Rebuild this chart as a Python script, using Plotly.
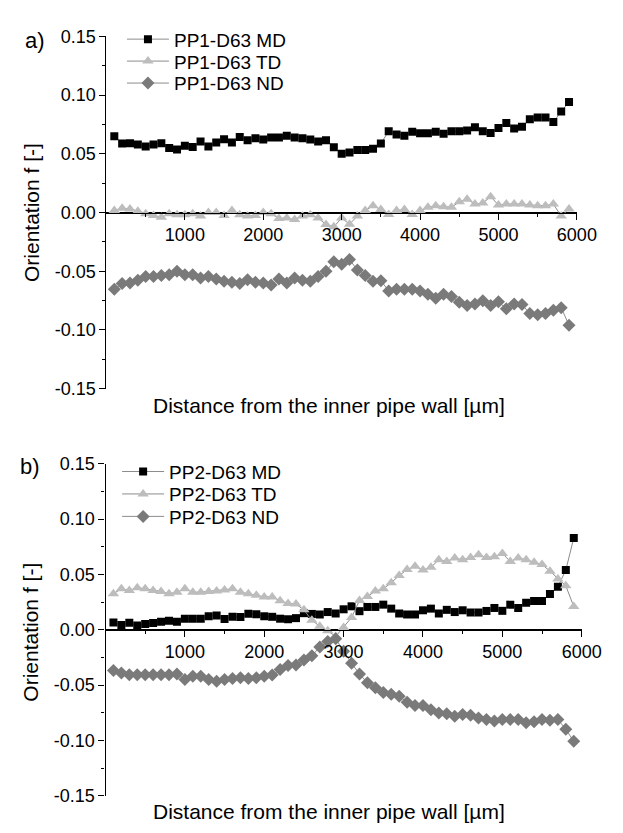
import plotly.graph_objects as go

# ---------------- data ----------------
distance = [100, 200, 300, 400, 500, 600, 700, 800, 900, 1000,
            1100, 1200, 1300, 1400, 1500, 1600, 1700, 1800, 1900, 2000,
            2100, 2200, 2300, 2400, 2500, 2600, 2700, 2800, 2900, 3000,
            3100, 3200, 3300, 3400, 3500, 3600, 3700, 3800, 3900, 4000,
            4100, 4200, 4300, 4400, 4500, 4600, 4700, 4800, 4900, 5000,
            5100, 5200, 5300, 5400, 5500, 5600, 5700, 5800, 5900]

pp1_md = [0.065, 0.0588, 0.059, 0.058, 0.0563, 0.058, 0.059, 0.055, 0.0536, 0.0569,
          0.0558, 0.0605, 0.0563, 0.0596, 0.0624, 0.0596, 0.0643, 0.0616, 0.0632, 0.0621,
          0.0638, 0.0638, 0.0654, 0.0638, 0.0632, 0.0621, 0.0605, 0.0616, 0.0555, 0.050,
          0.051, 0.0533, 0.0533, 0.0544, 0.0588, 0.0693, 0.0665, 0.0654, 0.0687, 0.0674,
          0.0674, 0.0687, 0.0671, 0.0693, 0.0693, 0.0698, 0.0726, 0.0693, 0.0676, 0.072,
          0.0762, 0.0715, 0.0731, 0.0795, 0.081, 0.081, 0.077, 0.086, 0.094]

pp1_td = [0.0017, 0.0036, 0.003, 0.001, -0.001, -0.0025, -0.004, -0.001, -0.002, -0.002,
          -0.001, -0.003, 0.0, 0.0, -0.0025, 0.0017, -0.002, -0.003, -0.0025, 0.0,
          -0.001, -0.005, -0.0047, -0.006, -0.003, -0.002, -0.0047, -0.0102, -0.0121, -0.0047,
          -0.0099, -0.003, 0.0017, 0.0058, 0.0025, -0.0017, 0.0017, 0.0025, -0.0017, 0.0017,
          0.0044, 0.0058, 0.005, 0.0044, 0.0091, 0.0113, 0.0072, 0.008, 0.0135, 0.0063,
          0.0072, 0.0072, 0.0072, 0.0063, 0.0058, 0.0058, 0.0072, -0.003, 0.003]

pp1_nd = [-0.0654, -0.0605, -0.060, -0.0577, -0.0544, -0.0544, -0.0536, -0.053, -0.050, -0.053,
          -0.053, -0.0558, -0.0544, -0.0566, -0.0585, -0.0594, -0.0605, -0.0572, -0.0594, -0.060,
          -0.0618, -0.0566, -0.060, -0.0558, -0.0577, -0.0585, -0.0544, -0.050, -0.042, -0.044,
          -0.040, -0.049, -0.0536, -0.0585, -0.058, -0.0668, -0.0654, -0.0654, -0.0654, -0.0668,
          -0.0696, -0.0731, -0.0696, -0.0715, -0.0764, -0.0792, -0.0778, -0.0751, -0.0792, -0.0759,
          -0.082, -0.0778, -0.0784, -0.086, -0.087, -0.086, -0.0833, -0.081, -0.096]

pp2_md = [0.0065, 0.0042, 0.0063, 0.0038, 0.0052, 0.0062, 0.0072, 0.0082, 0.0072, 0.0100,
          0.0100, 0.0100, 0.0123, 0.0130, 0.0098, 0.0117, 0.0115, 0.0145, 0.0140, 0.0122,
          0.0117, 0.0100, 0.0095, 0.0105, 0.0150, 0.0143, 0.0138, 0.0160, 0.0147, 0.0185,
          0.0212, 0.0168, 0.0206, 0.0206, 0.0227, 0.0191, 0.0147, 0.0138, 0.0138, 0.0176,
          0.0191, 0.0147, 0.0180, 0.0160, 0.0176, 0.0156, 0.0156, 0.0170, 0.0197, 0.0171,
          0.0227, 0.0197, 0.0244, 0.0260, 0.0260, 0.0324, 0.0388, 0.054, 0.083]

pp2_td = [0.0326, 0.037, 0.0356, 0.038, 0.037, 0.0356, 0.0347, 0.0326, 0.034, 0.037,
          0.034, 0.034, 0.0347, 0.035, 0.036, 0.037, 0.034, 0.0326, 0.0312, 0.0297,
          0.0297, 0.0262, 0.0238, 0.0232, 0.018, 0.0085, 0.0032, -0.001, -0.006, 0.002,
          0.011, 0.0265, 0.030, 0.035, 0.037, 0.0426, 0.049, 0.0544, 0.0574, 0.054,
          0.0565, 0.0633, 0.0618, 0.0648, 0.0633, 0.0653, 0.0677, 0.0653, 0.066, 0.069,
          0.0618, 0.0648, 0.0633, 0.061, 0.059, 0.053, 0.046, 0.0397, 0.021]

pp2_nd = [-0.0368, -0.039, -0.0406, -0.0406, -0.0406, -0.0406, -0.0406, -0.0406, -0.040, -0.045,
          -0.042, -0.042, -0.045, -0.0465, -0.045, -0.044, -0.0435, -0.044, -0.0435, -0.042,
          -0.041, -0.036, -0.0324, -0.0318, -0.0274, -0.0235, -0.0156, -0.0106, -0.0082, -0.0194,
          -0.0303, -0.040, -0.048, -0.0524, -0.0568, -0.0582, -0.060, -0.0656, -0.0685, -0.0685,
          -0.0724, -0.0753, -0.0759, -0.0782, -0.0765, -0.0774, -0.0797, -0.0812, -0.0824, -0.0812,
          -0.0812, -0.0812, -0.0841, -0.0832, -0.0812, -0.0818, -0.0812, -0.090, -0.1009]

y_ticks = [-0.15, -0.10, -0.05, 0.00, 0.05, 0.10, 0.15]
y_ticktext = ["-0.15", "-0.10", "-0.05", "0.00", "0.05", "0.10", "0.15"]
x_ticks = [1000, 2000, 3000, 4000, 5000, 6000]
x_ticktext = ["1000", "2000", "3000", "4000", "5000", "6000"]

names_a = ["PP1-D63 MD", "PP1-D63 TD", "PP1-D63 ND"]
names_b = ["PP2-D63 MD", "PP2-D63 TD", "PP2-D63 ND"]
x_title = "Distance from the inner pipe wall [µm]"
y_title = "Orientation f [-]"

# ---------------- styling ----------------
W, H = 623, 833
FONT = "Liberation Sans, Arial, Helvetica, sans-serif"
LINE_COL = "#8c8c8c"
styles = [
    dict(symbol="square", color="#000000", size=8),
    dict(symbol="triangle-up", color="#bdbdbd", size=10),
    dict(symbol="diamond", color="#7a7a7a", size=10),
]
# legend row centres (pixels from top) and left edges
legend_rows_a = [30, 52.5, 75]
legend_rows_b = [473, 496, 519]
legend_left_a = 126
legend_left_b = 121


def px_x(p):
    return p / W


def px_y(p):
    return (H - p) / H


fig = go.Figure()

series_a = [pp1_md, pp1_td, pp1_nd]
series_b = [pp2_md, pp2_td, pp2_nd]
legend_ids = ["legend", "legend2", "legend3", "legend4", "legend5", "legend6"]

for i, (name, ys, st) in enumerate(zip(names_a, series_a, styles)):
    fig.add_trace(go.Scatter(
        x=distance, y=ys, name=name, mode="lines+markers",
        line=dict(color=LINE_COL, width=1),
        marker=dict(symbol=st["symbol"], color=st["color"], size=st["size"],
                    line=dict(width=0)),
        xaxis="x", yaxis="y", legend=legend_ids[i]))

for i, (name, ys, st) in enumerate(zip(names_b, series_b, styles)):
    fig.add_trace(go.Scatter(
        x=distance, y=ys, name=name, mode="lines+markers",
        line=dict(color=LINE_COL, width=1),
        marker=dict(symbol=st["symbol"], color=st["color"], size=st["size"],
                    line=dict(width=0)),
        xaxis="x2", yaxis="y2", legend=legend_ids[3 + i]))

# panel geometry (pixels)
top_y0, top_y1 = 27, 388      # 0.15 .. -0.15
bot_y0, bot_y1 = 465, 805
top_x0, top_x1 = 110, 596     # 0 .. 6000
bot_x0, bot_x1 = 109, 601

dom_ya = [px_y(top_y1), px_y(top_y0)]
dom_yb = [px_y(bot_y1), px_y(bot_y0)]

tickfont = dict(family=FONT, size=18, color="#000")

yaxis_common = dict(
    range=[-0.15, 0.15], tickmode="array", tickvals=y_ticks, ticktext=y_ticktext,
    showline=True, linecolor="#000", linewidth=1.2, ticks="outside", ticklen=6,
    tickwidth=1.2, tickcolor="#000", showgrid=False, zeroline=True,
    zerolinecolor="#000", zerolinewidth=1.2, tickfont=tickfont,
    minor=dict(tickvals=[-0.125, -0.075, -0.025, 0.025, 0.075, 0.125],
               ticks="outside", ticklen=3, tickwidth=1.2, tickcolor="#000"),
)
xaxis_common = dict(
    range=[0, 6000], tickmode="array", tickvals=x_ticks, ticktext=x_ticktext,
    showline=True, linecolor="#000", linewidth=1.2, ticks="outside", ticklen=6,
    tickwidth=1.2, tickcolor="#000", showgrid=False, zeroline=False,
    tickfont=tickfont, anchor="free",
    minor=dict(tickvals=[500, 1500, 2500, 3500, 4500, 5500],
               ticks="outside", ticklen=3, tickwidth=1.2, tickcolor="#000"),
)

legend_common = dict(xanchor="left", yanchor="middle", bgcolor="rgba(0,0,0,0)",
                     font=dict(family=FONT, size=19), tracegroupgap=0,
                     itemwidth=42, itemsizing="trace", borderwidth=0)

legend_layout = {}
for i, row in enumerate(legend_rows_a):
    legend_layout[legend_ids[i]] = dict(legend_common, x=px_x(legend_left_a), y=px_y(row))
for i, row in enumerate(legend_rows_b):
    legend_layout[legend_ids[3 + i]] = dict(legend_common, x=px_x(legend_left_b), y=px_y(row))


def ann(text, xp, yp, size, angle=0):
    return dict(text=text, x=px_x(xp), y=px_y(yp), xref="paper", yref="paper",
                xanchor="center", yanchor="middle", textangle=angle,
                showarrow=False, font=dict(family=FONT, size=size, color="#000"))


fig.update_layout(
    width=W, height=H,
    margin=dict(l=0, r=0, t=0, b=0),
    paper_bgcolor="white", plot_bgcolor="white",
    font=dict(family=FONT, color="#000"),
    xaxis=dict(xaxis_common, domain=[px_x(top_x0), px_x(top_x1)],
               position=(dom_ya[0] + dom_ya[1]) / 2),
    yaxis=dict(yaxis_common, domain=dom_ya, anchor="x"),
    xaxis2=dict(xaxis_common, domain=[px_x(bot_x0), px_x(bot_x1)],
                position=(dom_yb[0] + dom_yb[1]) / 2),
    yaxis2=dict(yaxis_common, domain=dom_yb, anchor="x2"),
    showlegend=True,
    annotations=[
        ann("a)", 36, 31, 22),
        ann("b)", 31, 468, 22),
        ann(y_title, 32, 207, 21, -90),
        ann(y_title, 32, 637, 21, -90),
        ann(x_title, 340, 405, 21),
        ann(x_title, 340, 821, 21),
    ],
    **legend_layout,
)

fig.write_html("out.html")
